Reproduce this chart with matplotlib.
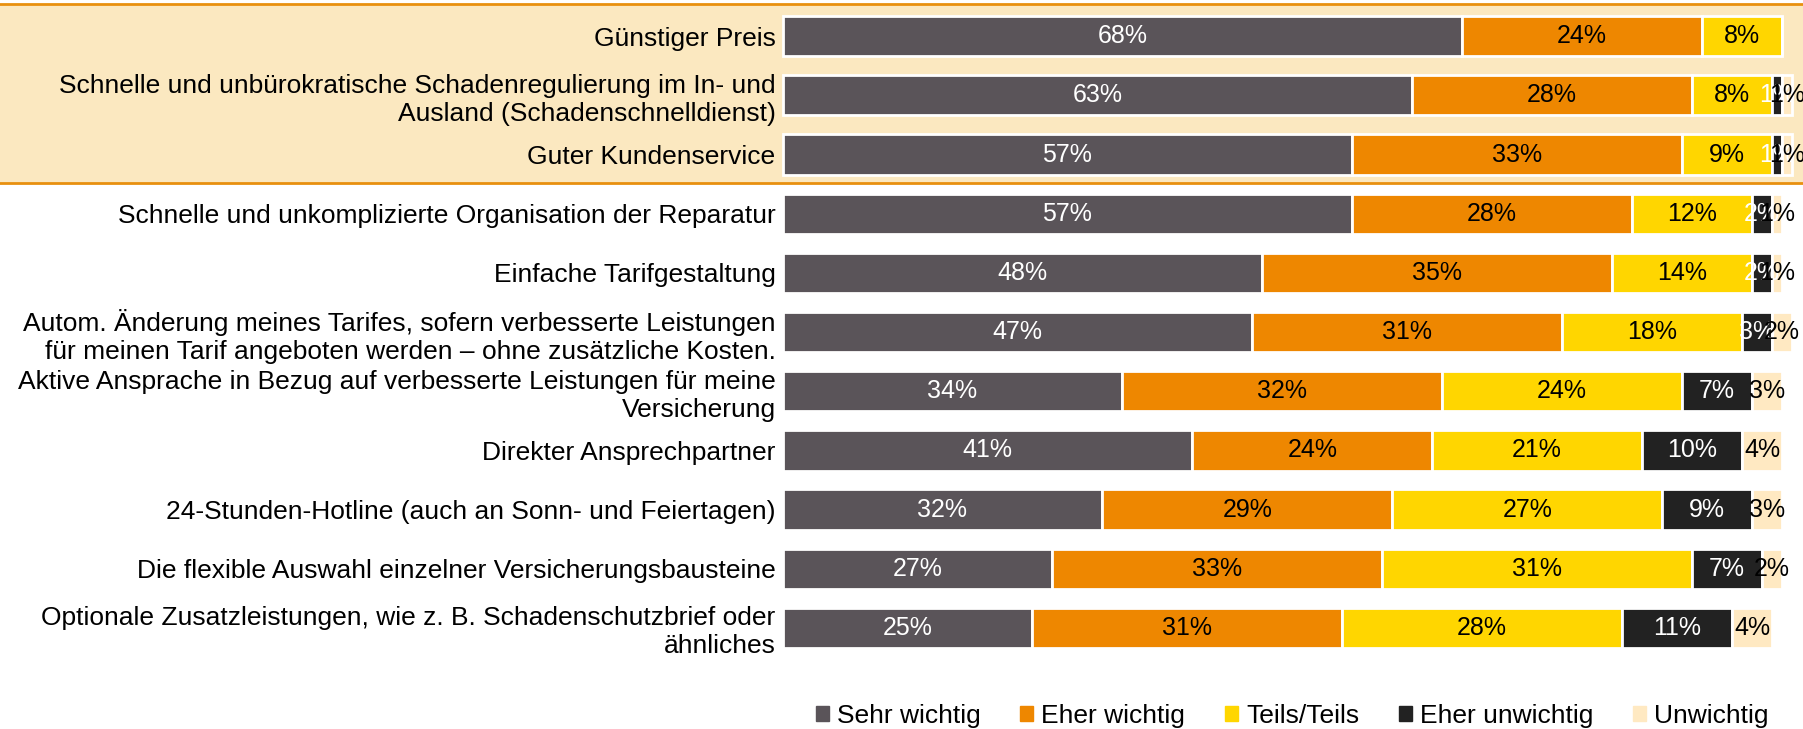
import matplotlib.pyplot as plt
from matplotlib.patches import Rectangle
from matplotlib.transforms import blended_transform_factory

plt.rcParams['font.family'] = ['Liberation Sans', 'DejaVu Sans']

# categories, top to bottom
categories = [
    "Günstiger Preis",
    "Schnelle und unbürokratische Schadenregulierung im In- und\nAusland (Schadenschnelldienst)",
    "Guter Kundenservice",
    "Schnelle und unkomplizierte Organisation der Reparatur",
    "Einfache Tarifgestaltung",
    "Autom. Änderung meines Tarifes, sofern verbesserte Leistungen\nfür meinen Tarif angeboten werden – ohne zusätzliche Kosten.",
    "Aktive Ansprache in Bezug auf verbesserte Leistungen für meine\nVersicherung",
    "Direkter Ansprechpartner",
    "24-Stunden-Hotline (auch an Sonn- und Feiertagen)",
    "Die flexible Auswahl einzelner Versicherungsbausteine",
    "Optionale Zusatzleistungen, wie z. B. Schadenschutzbrief oder\nähnliches",
]

series_names = ["Sehr wichtig", "Eher wichtig", "Teils/Teils", "Eher unwichtig", "Unwichtig"]
sehr_wichtig = [68, 63, 57, 57, 48, 47, 34, 41, 32, 27, 25]
eher_wichtig = [24, 28, 33, 28, 35, 31, 32, 24, 29, 33, 31]
teils_teils = [8, 8, 9, 12, 14, 18, 24, 21, 27, 31, 28]
eher_unwichtig = [0, 1, 1, 2, 2, 3, 7, 10, 9, 7, 11]
unwichtig = [0, 1, 1, 1, 1, 2, 3, 4, 3, 2, 4]

colors = ["#5a5459", "#ee8700", "#ffd600", "#222222", "#ffe9c2"]
label_colors = ["white", "black", "black", "white", "black"]

fig = plt.figure(figsize=(18.03, 7.29), dpi=100)
ax = fig.add_axes([0.434, 0.098, 0.5544, 0.893])
ax.patch.set_visible(False)

y = list(range(len(categories)))
left = [0] * len(categories)
all_series = [sehr_wichtig, eher_wichtig, teils_teils, eher_unwichtig, unwichtig]
for vals, col, lc in zip(all_series, colors, label_colors):
    bars = ax.barh(y, vals, left=left, height=0.68, color=col,
                   edgecolor="white", linewidth=2, clip_on=False)
    for b, v, l in zip(bars, vals, left):
        if v > 0:
            ax.text(l + v / 2, b.get_y() + b.get_height() / 2, f"{v}%",
                    ha="center", va="center", color=lc, fontsize=18)
    left = [a + b for a, b in zip(left, vals)]

ax.set_xlim(0, 100)
ax.set_ylim(10.5, -0.5)
ax.set_yticks(y)
ax.set_yticklabels(categories, fontsize=19)
ax.tick_params(axis="y", length=0, pad=5)
ax.set_xticks([])
for s in ax.spines.values():
    s.set_visible(False)

# highlighted top block across full width
tr = blended_transform_factory(fig.transFigure, ax.transData)
fig.add_artist(Rectangle((0, -0.54), 1, 3.02, transform=tr, facecolor="#fbe8c0",
                         edgecolor="none", zorder=-2))
for yy in (-0.54, 2.48):
    fig.add_artist(plt.Line2D([0, 1], [yy, yy], transform=tr, color="#e8900f",
                              linewidth=2, zorder=-1))

handles = [Rectangle((0, 0), 1, 1, color=c) for c in colors]
fig.legend(handles, series_names, loc="center", bbox_to_anchor=(0.7166, 0.018),
           ncol=5, frameon=False, fontsize=19, handlelength=0.5, handleheight=0.5,
           handletextpad=0.3, columnspacing=1.5)

fig.savefig("out.png", dpi=100)
